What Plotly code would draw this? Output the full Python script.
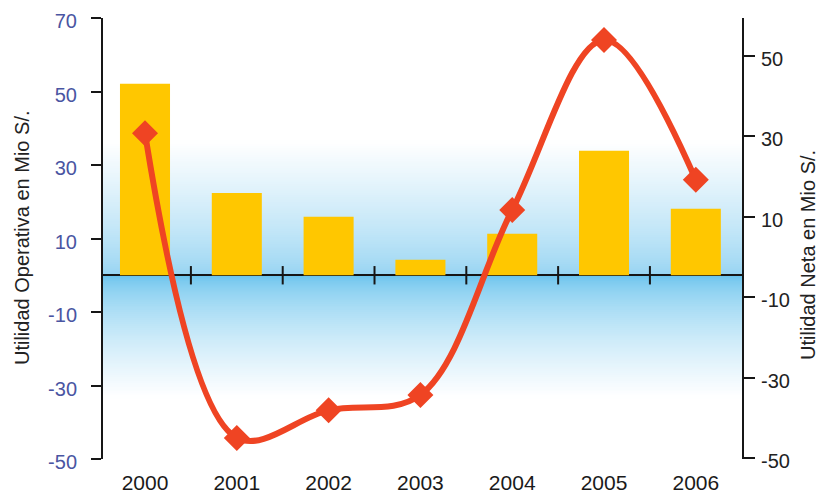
import plotly.graph_objects as go

# ---------------- data ----------------
years = [2000, 2001, 2002, 2003, 2004, 2005, 2006]
year_labels = ["2000", "2001", "2002", "2003", "2004", "2005", "2006"]
utilidad_operativa = [52.1, 22.4, 15.9, 4.2, 11.3, 33.9, 18.1]   # left axis, bars
utilidad_neta = [30.8, -45.0, -38.1, -34.3, 11.7, 54.0, 19.2]    # right axis, line
left_ticks = [-50, -30, -10, 10, 30, 50, 70]
left_tick_labels = ["-50", "-30", "-10", "10", "30", "50", "70"]
right_ticks = [-50, -30, -10, 10, 30, 50]
right_tick_labels = ["-50", "-30", "-10", "10", "30", "50"]
left_title = "Utilidad Operativa en Mio S/."
right_title = "Utilidad Neta en Mio S/."

# ---------------- style ----------------
FONT = "Liberation Sans, Arial, sans-serif"
AXC = "#161616"
left_range = [-50, 70.001]
right_range = [-50.25, 59.45]
x_range = [years[0] - 0.4575, years[-1] + 0.503]
PAGE_OFF = 8  # browser default body margin

fig = go.Figure()
fig.add_trace(go.Bar(
    x=years, y=utilidad_operativa, width=0.545,
    marker=dict(color="#ffc700", line=dict(width=0)),
    showlegend=False, hoverinfo="x+y",
))
fig.add_trace(go.Scatter(
    x=years, y=utilidad_neta, yaxis="y2", mode="lines+markers",
    line=dict(color="#ef4423", width=6, shape="spline", smoothing=1.0),
    marker=dict(symbol="diamond", size=20, color="#ef4423"),
    showlegend=False,
))

# background gradient (white -> blue at zero -> white)
zero_frac = (0 - left_range[0]) / (left_range[1] - left_range[0])
top_white = 0.72
bot_white = 0.14
def mix(c1, c2, t):
    return "rgb(%d,%d,%d)" % tuple(round(a + (b - a) * t) for a, b in zip(c1, c2))
white = (255, 255, 255)
blue_up = (150, 212, 242)
blue_dn = (98, 192, 236)
shapes = []
n = 60
ov = 0.004
for i in range(n):
    y0 = zero_frac + (top_white - zero_frac) * i / n
    y1 = zero_frac + (top_white - zero_frac) * (i + 1) / n
    t = (i + 0.5) / n
    shapes.append(dict(type="rect", xref="paper", yref="paper", x0=0, x1=1, y0=y0, y1=y1 + ov,
                       fillcolor=mix(blue_up, white, t ** 0.8), line=dict(width=0), layer="below"))
for i in range(n):
    y1 = zero_frac - (zero_frac - bot_white) * i / n
    y0 = zero_frac - (zero_frac - bot_white) * (i + 1) / n
    t = (i + 0.5) / n
    shapes.append(dict(type="rect", xref="paper", yref="paper", x0=0, x1=1, y0=y0 - ov, y1=y1,
                       fillcolor=mix(blue_dn, white, t ** 0.6), line=dict(width=0), layer="below"))

# zero line tick marks at category boundaries
for a, b in zip(years[:-1], years[1:]):
    xb = (a + b) / 2
    shapes.append(dict(type="line", xref="x", yref="y", x0=xb, x1=xb, y0=-2.5, y1=2.5,
                       line=dict(color=AXC, width=2)))

fig.update_layout(
    width=827 - PAGE_OFF, height=499 - PAGE_OFF,
    margin=dict(l=103 - PAGE_OFF, r=85, t=18 - PAGE_OFF, b=40, autoexpand=False),
    paper_bgcolor="white", plot_bgcolor="white",
    font=dict(family=FONT, color=AXC),
    shapes=shapes,
    xaxis=dict(range=x_range, tickvals=years, ticktext=year_labels, showline=False,
               showgrid=False, zeroline=False, ticks="outside", ticklen=0, automargin=False,
               ticklabelstandoff=5, ticklabeloverflow="allow",
               tickfont=dict(size=21, color="#1a1a1a")),
    yaxis=dict(range=left_range, tickvals=left_ticks, ticktext=left_tick_labels, showgrid=False,
               zeroline=True, zerolinecolor=AXC, zerolinewidth=2, automargin=False,
               showline=True, linecolor=AXC, linewidth=2,
               ticks="outside", ticklen=10, tickwidth=2, tickcolor=AXC,
               ticklabeloverflow="allow", ticklabelshift=3,
               ticklabelstandoff=10, tickfont=dict(size=20, color="#4a55a2")),
    yaxis3=dict(range=left_range, tickvals=left_ticks, overlaying="y", side="left",
                showgrid=False, zeroline=False, showline=False, ticks="inside", automargin=False,
                ticklen=10, tickwidth=2, tickcolor=AXC, showticklabels=False),
    yaxis2=dict(range=right_range, tickvals=right_ticks, ticktext=right_tick_labels,
                overlaying="y", side="right", automargin=False,
                showgrid=False, zeroline=False, showline=True, linecolor=AXC, linewidth=2,
                ticks="outside", ticklen=11, tickwidth=2, tickcolor=AXC,
                ticklabeloverflow="allow", ticklabelshift=3,
                ticklabelstandoff=2, tickfont=dict(size=20, color="#222222")),
    yaxis4=dict(range=right_range, tickvals=right_ticks, overlaying="y", side="right",
                showgrid=False, zeroline=False, showline=False, ticks="inside", automargin=False,
                ticklen=11, tickwidth=2, tickcolor=AXC, showticklabels=False),
    annotations=[
        dict(text=left_title, xref="paper", yref="paper", x=(22 - 103) / 639, y=0.501,
             textangle=-90, showarrow=False, font=dict(size=20, color="#222222"),
             xanchor="center", yanchor="middle"),
        dict(text=right_title, xref="paper", yref="paper", x=1 + (808 - 742) / 639, y=0.4626,
             textangle=-90, showarrow=False, font=dict(size=20, color="#222222"),
             xanchor="center", yanchor="middle"),
    ],
)

fig.write_html("out.html")
